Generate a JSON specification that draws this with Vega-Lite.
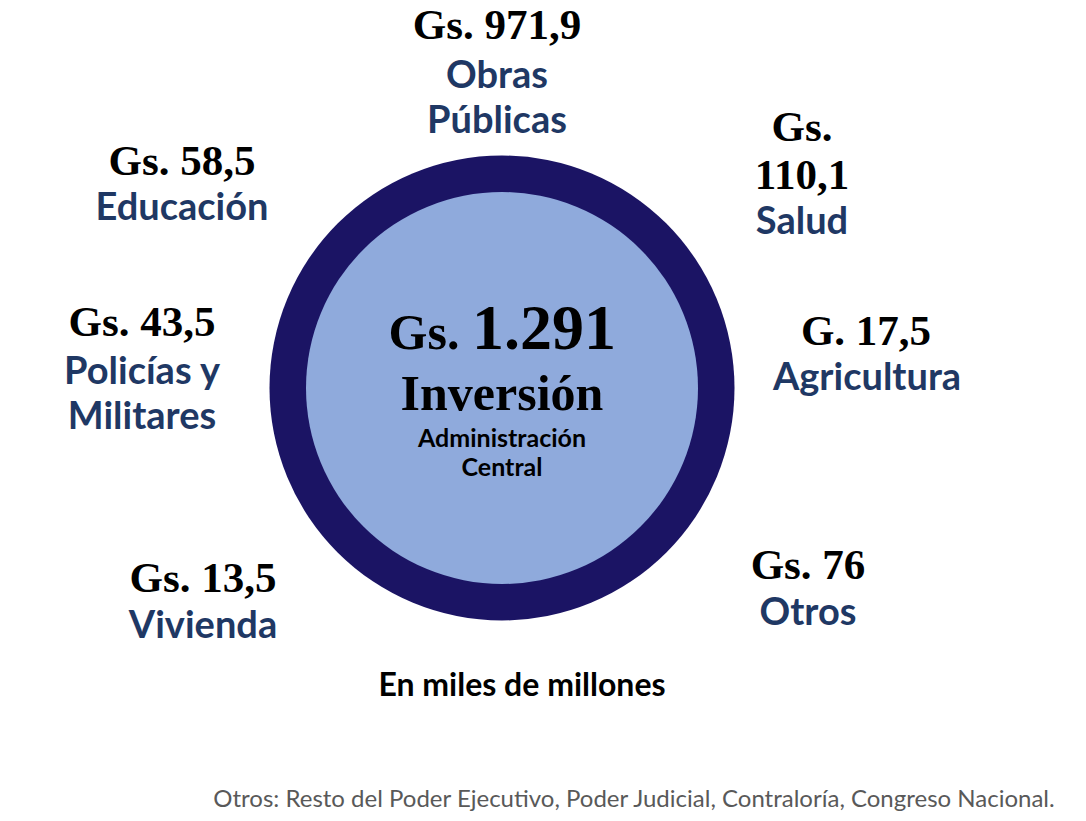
{
  "$schema": "https://vega.github.io/schema/vega-lite/v6.json",
  "width": 1086,
  "height": 821,
  "padding": 0,
  "autosize": {"type": "fit", "contains": "padding"},
  "background": "white",
  "config": {"view": {"stroke": null}},
  "datasets": {
    "circulo": [{"x": 502, "y": 388, "total": 1291}],
    "montos": [
      {"texto": "Gs. 971,9", "x": 497, "y": 39},
      {"texto": "Gs.", "x": 802, "y": 141},
      {"texto": "110,1", "x": 802, "y": 189},
      {"texto": "Gs. 58,5", "x": 182, "y": 175},
      {"texto": "Gs. 43,5", "x": 142, "y": 336},
      {"texto": "G. 17,5", "x": 866, "y": 345},
      {"texto": "Gs. 13,5", "x": 203, "y": 592},
      {"texto": "Gs. 76", "x": 808, "y": 579}
    ],
    "categorias": [
      {"texto": "Obras", "x": 497, "y": 88},
      {"texto": "Públicas", "x": 497, "y": 133},
      {"texto": "Salud", "x": 802, "y": 234},
      {"texto": "Educación", "x": 182, "y": 220},
      {"texto": "Policías y", "x": 142, "y": 384},
      {"texto": "Militares", "x": 142, "y": 429},
      {"texto": "Agricultura", "x": 867, "y": 390},
      {"texto": "Vivienda", "x": 203, "y": 638},
      {"texto": "Otros", "x": 808, "y": 625}
    ],
    "centroGs": [{"texto": "Gs.", "x": 424, "y": 349}],
    "centroTotal": [{"texto": "1.291", "x": 544, "y": 349}],
    "centroTitulo": [{"texto": "Inversión", "x": 502, "y": 410}],
    "centroSub": [
      {"texto": "Administración", "x": 502, "y": 447},
      {"texto": "Central", "x": 502, "y": 476}
    ],
    "nota": [{"texto": "En miles de millones", "x": 522, "y": 696}],
    "pie": [{"texto": "Otros: Resto del Poder Ejecutivo, Poder Judicial, Contraloría, Congreso Nacional.", "x": 634, "y": 807}]
  },
  "encoding": {
    "x": {"field": "x", "type": "quantitative", "scale": {"domain": [0, 1086], "nice": false, "zero": false}, "axis": null},
    "y": {"field": "y", "type": "quantitative", "scale": {"domain": [0, 821], "nice": false, "zero": false, "reverse": true}, "axis": null}
  },
  "layer": [
    {
      "data": {"name": "circulo"},
      "mark": {"type": "point", "shape": "circle", "filled": true, "size": 216225, "color": "#1b1464", "opacity": 1}
    },
    {
      "data": {"name": "circulo"},
      "mark": {"type": "point", "shape": "circle", "filled": true, "size": 153664, "color": "#8faadc", "opacity": 1}
    },
    {
      "data": {"name": "montos"},
      "mark": {"type": "text", "font": "Liberation Serif", "fontWeight": "bold", "fontSize": 43, "color": "#000000", "align": "center", "baseline": "alphabetic"},
      "encoding": {"text": {"field": "texto"}}
    },
    {
      "data": {"name": "categorias"},
      "mark": {"type": "text", "font": "Lato", "fontWeight": "bold", "fontSize": 38, "color": "#1f3864", "align": "center", "baseline": "alphabetic"},
      "encoding": {"text": {"field": "texto"}}
    },
    {
      "data": {"name": "centroGs"},
      "mark": {"type": "text", "font": "Liberation Serif", "fontWeight": "bold", "fontSize": 50, "color": "#000000", "align": "center", "baseline": "alphabetic"},
      "encoding": {"text": {"field": "texto"}}
    },
    {
      "data": {"name": "centroTotal"},
      "mark": {"type": "text", "font": "Liberation Serif", "fontWeight": "bold", "fontSize": 64, "color": "#000000", "align": "center", "baseline": "alphabetic"},
      "encoding": {"text": {"field": "texto"}}
    },
    {
      "data": {"name": "centroTitulo"},
      "mark": {"type": "text", "font": "Liberation Serif", "fontWeight": "bold", "fontSize": 50, "color": "#000000", "align": "center", "baseline": "alphabetic"},
      "encoding": {"text": {"field": "texto"}}
    },
    {
      "data": {"name": "centroSub"},
      "mark": {"type": "text", "font": "Lato", "fontWeight": "bold", "fontSize": 25, "color": "#000000", "align": "center", "baseline": "alphabetic"},
      "encoding": {"text": {"field": "texto"}}
    },
    {
      "data": {"name": "nota"},
      "mark": {"type": "text", "font": "Lato", "fontWeight": "bold", "fontSize": 32, "color": "#000000", "align": "center", "baseline": "alphabetic"},
      "encoding": {"text": {"field": "texto"}}
    },
    {
      "data": {"name": "pie"},
      "mark": {"type": "text", "font": "Lato", "fontWeight": "normal", "fontSize": 24, "color": "#595959", "align": "center", "baseline": "alphabetic"},
      "encoding": {"text": {"field": "texto"}}
    }
  ]
}
